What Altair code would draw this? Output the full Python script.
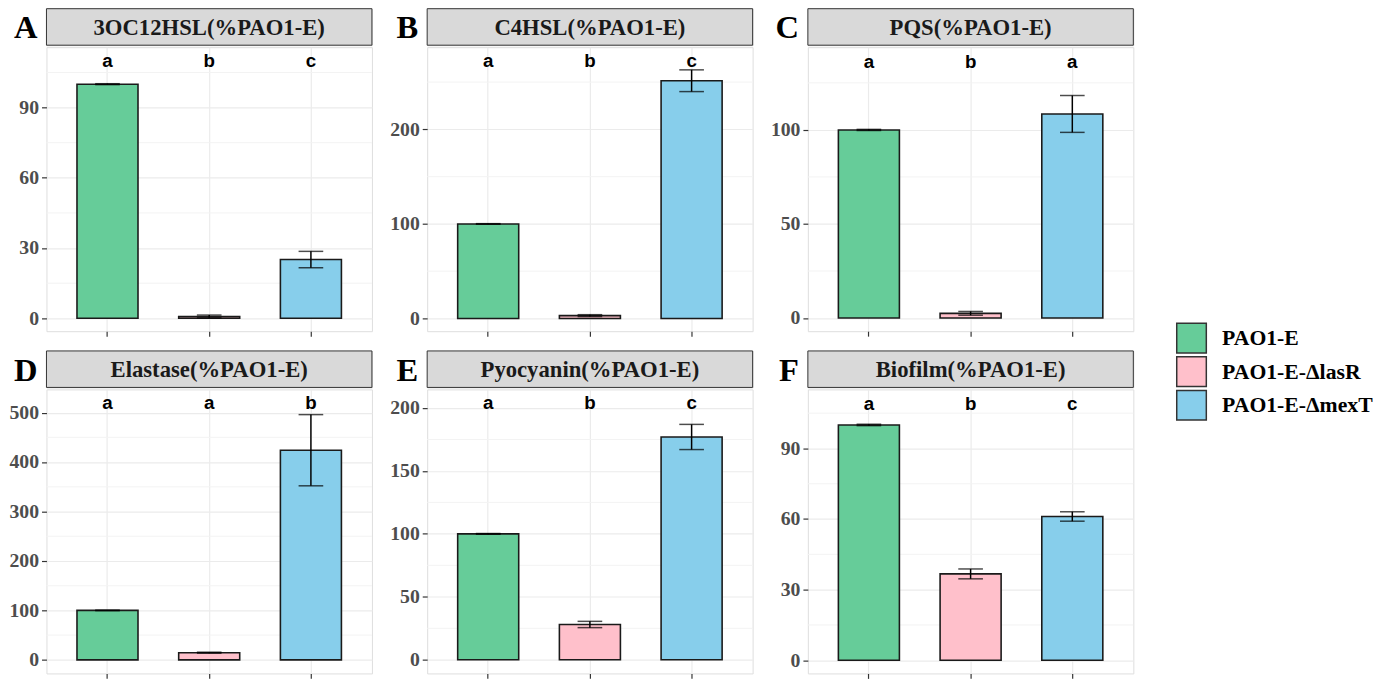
import altair as alt
import pandas as pd

# ---------------- data ----------------
groups = ["PAO1-E", "PAO1-E-ΔlasR", "PAO1-E-ΔmexT"]
colors = ["#66CC99", "#FFC0CB", "#87CEEB"]

panel_ids = ["A", "B", "C", "D", "E", "F"]
titles = ["3OC12HSL(%PAO1-E)", "C4HSL(%PAO1-E)", "PQS(%PAO1-E)",
          "Elastase(%PAO1-E)", "Pyocyanin(%PAO1-E)", "Biofilm(%PAO1-E)"]

means_A = [100, 0.8, 25.1]
means_B = [100, 3.0, 251.5]
means_C = [100, 2.5, 108.5]
means_D = [100, 14.5, 424.0]
means_E = [100, 28.0, 177.0]
means_F = [100, 36.7, 61.1]

se_A = [0.2, 0.6, 3.5]
se_B = [0.3, 1.0, 11.5]
se_C = [0.3, 1.0, 9.8]
se_D = [0.5, 1.0, 72.0]
se_E = [0.3, 2.5, 10.0]
se_F = [0.3, 2.1, 2.0]

sig_A = ["a", "b", "c"]
sig_B = ["a", "b", "c"]
sig_C = ["a", "b", "a"]
sig_D = ["a", "a", "b"]
sig_E = ["a", "b", "c"]
sig_F = ["a", "b", "c"]

sig_y = [110, 272, 136, 520, 204, 109]

y_domains = [[-5.5, 115.8], [-13.5, 287], [-7, 144], [-27.5, 547], [-10.9, 214.8], [-5.6, 115.1]]
major_ticks = [[0, 30, 60, 90], [0, 100, 200], [0, 50, 100],
               [0, 100, 200, 300, 400, 500], [0, 50, 100, 150, 200], [0, 30, 60, 90]]
minor_ticks = [[15, 45, 75, 105], [50, 150, 250], [25, 75, 125],
               [50, 150, 250, 350, 450], [25, 75, 125, 175], [15, 45, 75, 105]]

all_means = [means_A, means_B, means_C, means_D, means_E, means_F]
all_se = [se_A, se_B, se_C, se_D, se_E, se_F]
all_sig = [sig_A, sig_B, sig_C, sig_D, sig_E, sig_F]

# ---------------- layout ----------------
W = 330
H = 288
SH = 37
SERIF = "Liberation Serif"
SANS = "Liberation Sans"


def make_panel(i):
    pid = panel_ids[i]
    m = all_means[i]
    s = all_se[i]
    df = pd.DataFrame({
        "group": groups,
        "mean": m,
        "lo": [a - b for a, b in zip(m, s)],
        "hi": [a + b for a, b in zip(m, s)],
        "sig": all_sig[i],
        "sy": [sig_y[i]] * 3,
    })
    minor_df = pd.DataFrame({"v": minor_ticks[i]})

    xs = alt.Scale(domain=groups, paddingInner=0.4, paddingOuter=0.3)
    xaxis = alt.Axis(title=None, labels=False, ticks=True, tickSize=5, tickWidth=1.2,
                     tickColor="#333333", domain=False, grid=True, gridColor="#EBEBEB",
                     gridWidth=1.2, bandPosition=0.5)
    ys = alt.Scale(domain=y_domains[i], nice=False, zero=False)
    yaxis = alt.Axis(title=None, values=major_ticks[i], labelFont=SERIF, labelFontWeight="bold",
                     labelFontSize=20, labelColor="#4D4D4D", tickColor="#333333", tickSize=5,
                     tickWidth=1.2, labelPadding=3, domain=False, grid=True,
                     gridColor="#EBEBEB", gridWidth=1.2)
    X = alt.X("group:N", scale=xs, axis=xaxis, title=None)

    minor = alt.Chart(minor_df).mark_rule(color="#F3F3F3", strokeWidth=1).encode(
        y=alt.Y("v:Q", scale=ys, axis=yaxis, title=None))

    base = alt.Chart(df)
    bars = base.mark_bar(stroke="#1A1A1A", strokeWidth=1.6).encode(
        x=X,
        y=alt.Y("mean:Q", scale=ys, axis=yaxis, title=None),
        color=alt.Color("group:N", scale=alt.Scale(domain=groups, range=colors),
                        legend=alt.Legend(title=None, orient="none", legendX=1145, legendY=318,
                                          symbolType="square", symbolSize=900,
                                          symbolStrokeColor="#333333", symbolStrokeWidth=1.5,
                                          symbolOpacity=1, rowPadding=-3, labelOffset=15,
                                          labelFont=SERIF, labelFontWeight="bold",
                                          labelFontSize=22, labelColor="#000000",
                                          padding=0, labelLimit=300)),
    )
    err = base.mark_rule(color="#000000", strokeWidth=1.5).encode(
        x=X, y=alt.Y("lo:Q", scale=ys, axis=yaxis, title=None), y2="hi:Q")
    cap_lo = base.mark_tick(color="#000000", size=25, thickness=1.5, orient="horizontal").encode(
        x=X, y=alt.Y("lo:Q", scale=ys, axis=yaxis, title=None))
    cap_hi = base.mark_tick(color="#000000", size=25, thickness=1.5, orient="horizontal").encode(
        x=X, y=alt.Y("hi:Q", scale=ys, axis=yaxis, title=None))
    txt = base.mark_text(font=SANS, fontSize=19, fontWeight="bold", color="#000000",
                         baseline="middle").encode(
        x=X, y=alt.Y("sy:Q", scale=ys, axis=yaxis, title=None), text="sig:N")

    plot = alt.layer(minor, bars, err, cap_lo, cap_hi, txt).properties(width=W, height=H)

    sdf = pd.DataFrame({"title": [titles[i]], "pid": [pid]})
    sb = alt.Chart(sdf)
    pad = sb.mark_rect(opacity=0).encode(x=alt.value(-38), x2=alt.value(0),
                                          y=alt.value(0), y2=alt.value(1))
    rect = sb.mark_rect(fill="#D9D9D9", stroke="#333333", strokeWidth=1).encode(
        x=alt.value(0), x2=alt.value(W), y=alt.value(0), y2=alt.value(SH))
    stxt = sb.mark_text(font=SERIF, fontWeight="bold", fontSize=23, color="#1A1A1A",
                        baseline="middle", align="center").encode(
        x=alt.value(W / 2), y=alt.value(SH / 2 + 1), text="title:N")
    letter = sb.mark_text(font=SERIF, fontWeight="bold", fontSize=33, color="#000000",
                          baseline="top", align="right").encode(
        x=alt.value(-9), y=alt.value(4), text="pid:N")
    strip = alt.layer(pad, rect, stxt, letter).properties(width=W, height=SH)

    return alt.vconcat(strip, plot, spacing=0)


row1 = alt.hconcat(*[make_panel(i) for i in range(3)], spacing=16)
row2 = alt.hconcat(*[make_panel(i) for i in range(3, 6)], spacing=16)

chart = alt.vconcat(row1, row2, spacing=12,
                    padding={"left": 0, "top": -5, "right": 0, "bottom": 0}).configure_view(
    stroke="#7A7A7A", strokeWidth=1
).configure(background="#FFFFFF")

chart.save("out.html", embed_options={"renderer": "svg", "actions": False})
